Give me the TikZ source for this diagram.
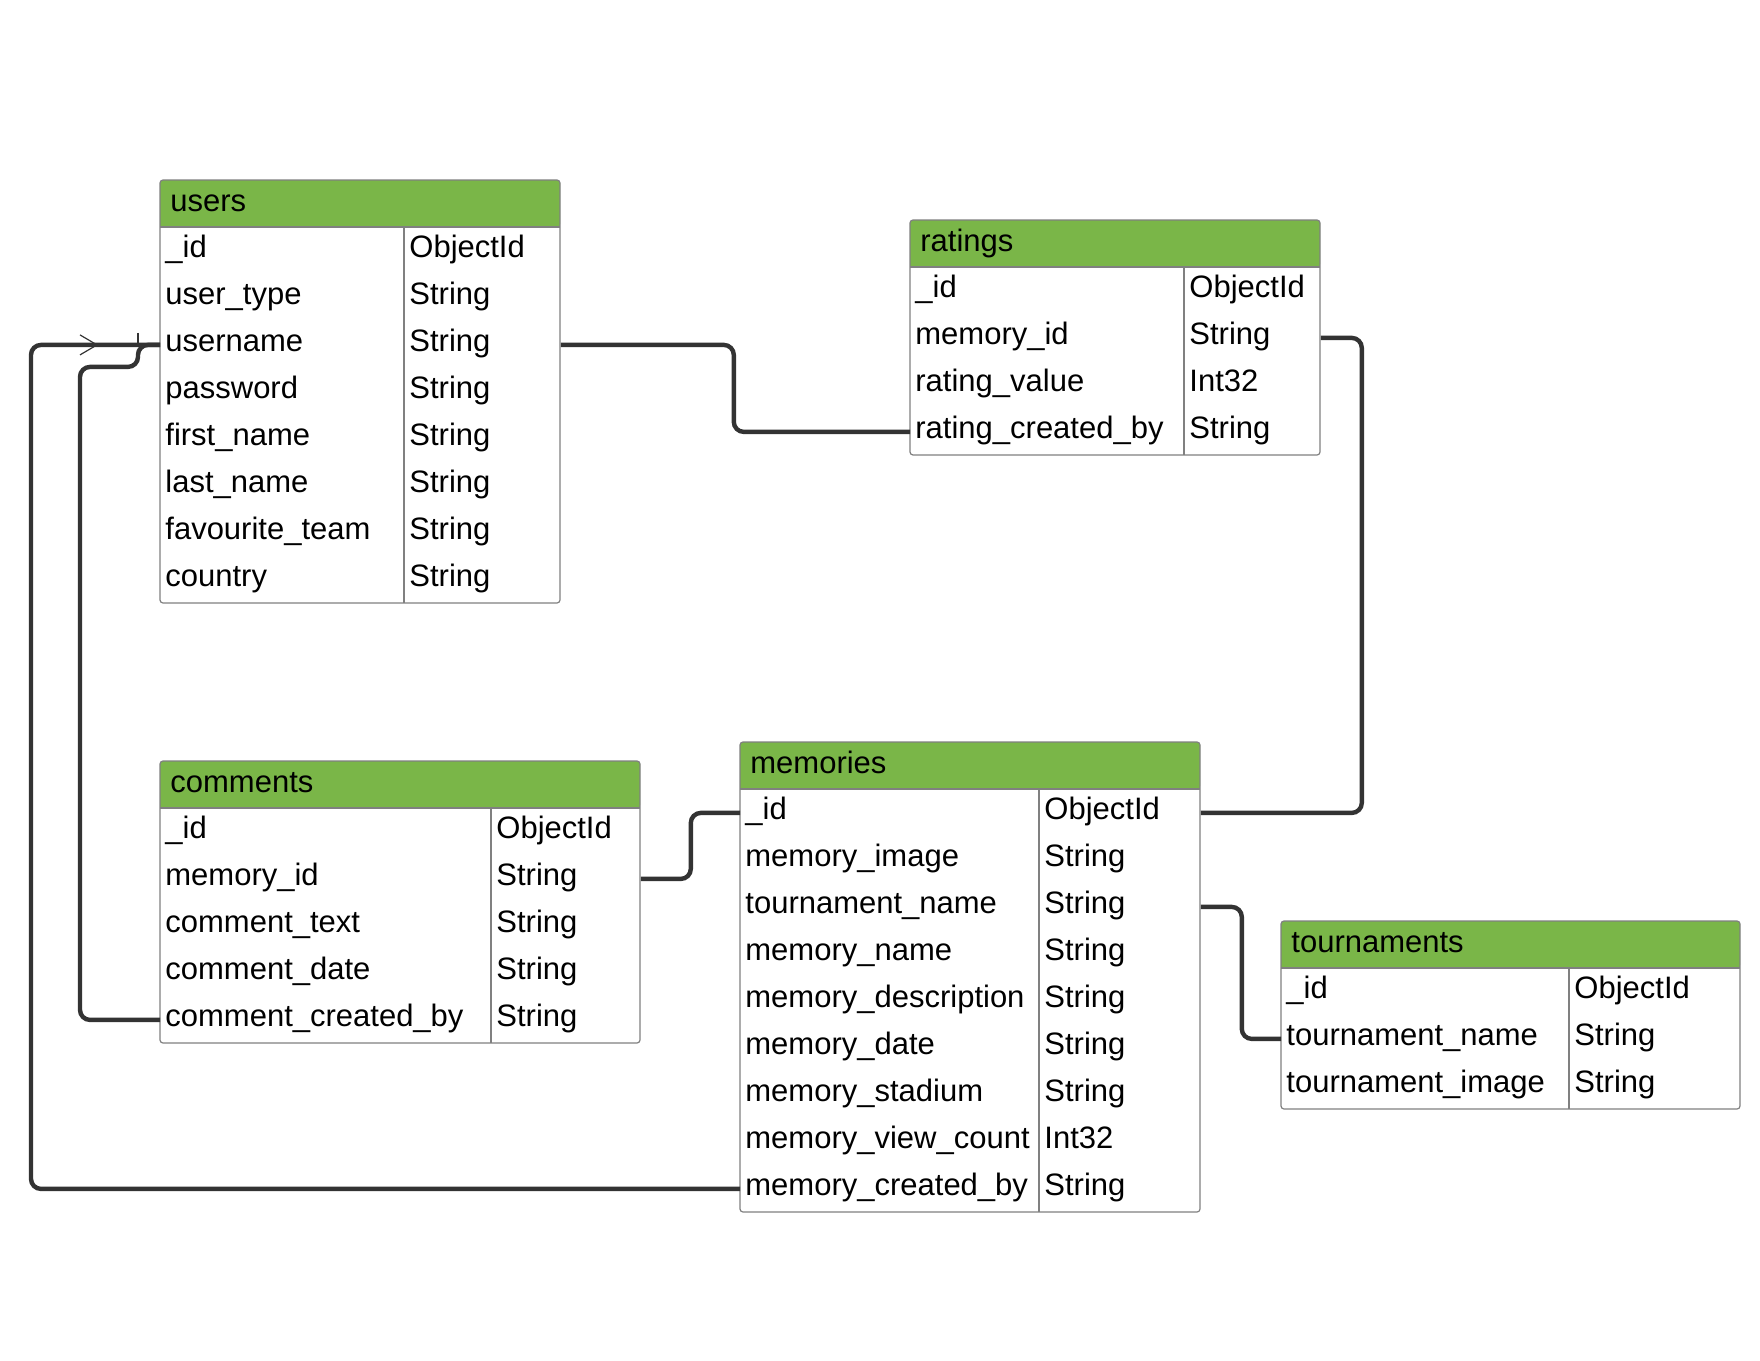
\documentclass[tikz,border=0pt]{standalone}
\usepackage{fontspec}
\setmainfont{Liberation Sans}
\usetikzlibrary{calc}
\definecolor{hdrgreen}{HTML}{7AB648}
\definecolor{connc}{HTML}{333333}
\definecolor{bordc}{HTML}{808080}
\tikzset{
  cell/.style={inner sep=0pt, anchor=west, font=\fontsize{15.5}{18}\selectfont, text=black,
    text height=11pt, text depth=3pt},
  rowbox/.style={inner sep=0pt, minimum height=23.5pt, anchor=north west},
  hdrbox/.style={inner sep=0pt, minimum height=23.5pt, anchor=north west},
  tabline/.style={draw=bordc, line width=0.6pt},
  conn/.style={draw=connc, line width=2.2pt, rounded corners=5pt},
  endmk/.style={draw=connc, line width=0.6pt},
}
% #1 name #2 x #3 y #4 width #5 column offset #6 number of rows #7 title #8 rows
\newcommand\erdtable[8]{%
  \fill[white] (#2,#3) rectangle ++(#4,{47*(#6+1)});
  \fill[hdrgreen, rounded corners=1.5pt] (#2,#3) rectangle ++(#4,47);
  \fill[hdrgreen] (#2,{#3+20}) rectangle ++(#4,27);
  \node[hdrbox, minimum width={#4*0.5pt}] (#1) at (#2,#3) {};
  \node[cell] at ([xshift=5pt,yshift=0.3pt]#1.west) {#7};
  \foreach \f/\t [count=\i] in {#8} {
    \node[rowbox, minimum width={#4*0.5pt}] (#1-\i) at (#2,{#3+47*\i}) {};
    \node[cell] at ([xshift=2.5pt,yshift=0.7pt]#1-\i.west) {\f};
    \node[cell] at ([xshift={(#5+5)*0.5pt},yshift=0.7pt]#1-\i.west) {\t};
  }
  \draw[tabline] (#2,{#3+47}) -- ++(#4,0);
  \draw[tabline] ({#2+#5},{#3+47}) -- ++(0,{47*#6});
  \draw[tabline, rounded corners=1.5pt] (#2,#3) rectangle ++(#4,{47*(#6+1)});
}
\begin{document}
\begin{tikzpicture}[x=0.5pt,y=-0.5pt]
\useasboundingbox (0,0) rectangle (1760,1360);
\fill[white] (0,0) rectangle (1760,1360);

\erdtable{users}{160}{180}{400}{244}{8}{users}{%
  \_id/ObjectId, user\_type/String, username/String, password/String,
  first\_name/String, last\_name/String, favourite\_team/String, country/String}
\erdtable{ratings}{910}{220}{410}{274}{4}{ratings}{%
  \_id/ObjectId, memory\_id/String, rating\_value/Int32, rating\_created\_by/String}
\erdtable{comments}{160}{761}{480}{331}{5}{comments}{%
  \_id/ObjectId, memory\_id/String, comment\_text/String, comment\_date/String,
  comment\_created\_by/String}
\erdtable{memories}{740}{742}{460}{299}{9}{memories}{%
  \_id/ObjectId, memory\_image/String, tournament\_name/String, memory\_name/String,
  memory\_description/String, memory\_date/String, memory\_stadium/String,
  memory\_view\_count/Int32, memory\_created\_by/String}
\erdtable{tournaments}{1281}{921}{459}{288}{3}{tournaments}{%
  \_id/ObjectId, tournament\_name/String, tournament\_image/String}

\draw[conn] (users-3.east) -- ++(173,0) |- (ratings-4.west);
\draw[conn] (ratings-2.east) -- ++(41,0) |- (memories-1.east);
\draw[conn] (comments-2.east) -- ++(50,0) |- (memories-1.west);
\draw[conn] (memories-3.east) -- ++(41,0) |- (tournaments-2.west);
\draw[conn] (comments-5.west) -- ++(-80,0) -- ++(0,-653) -- ++(58,0) |- (users-3.west);
\draw[conn] (memories-9.west) -- ++(-709,0) |- (users-3.west);

\draw[endmk] ([shift={(-80,-10)}]users-3.west) -- ([shift={(-63,0)}]users-3.west)
  -- ([shift={(-80,10)}]users-3.west);
\draw[endmk] ([shift={(-22,-12)}]users-3.west) -- ([shift={(-22,0)}]users-3.west);
\end{tikzpicture}
\end{document}
